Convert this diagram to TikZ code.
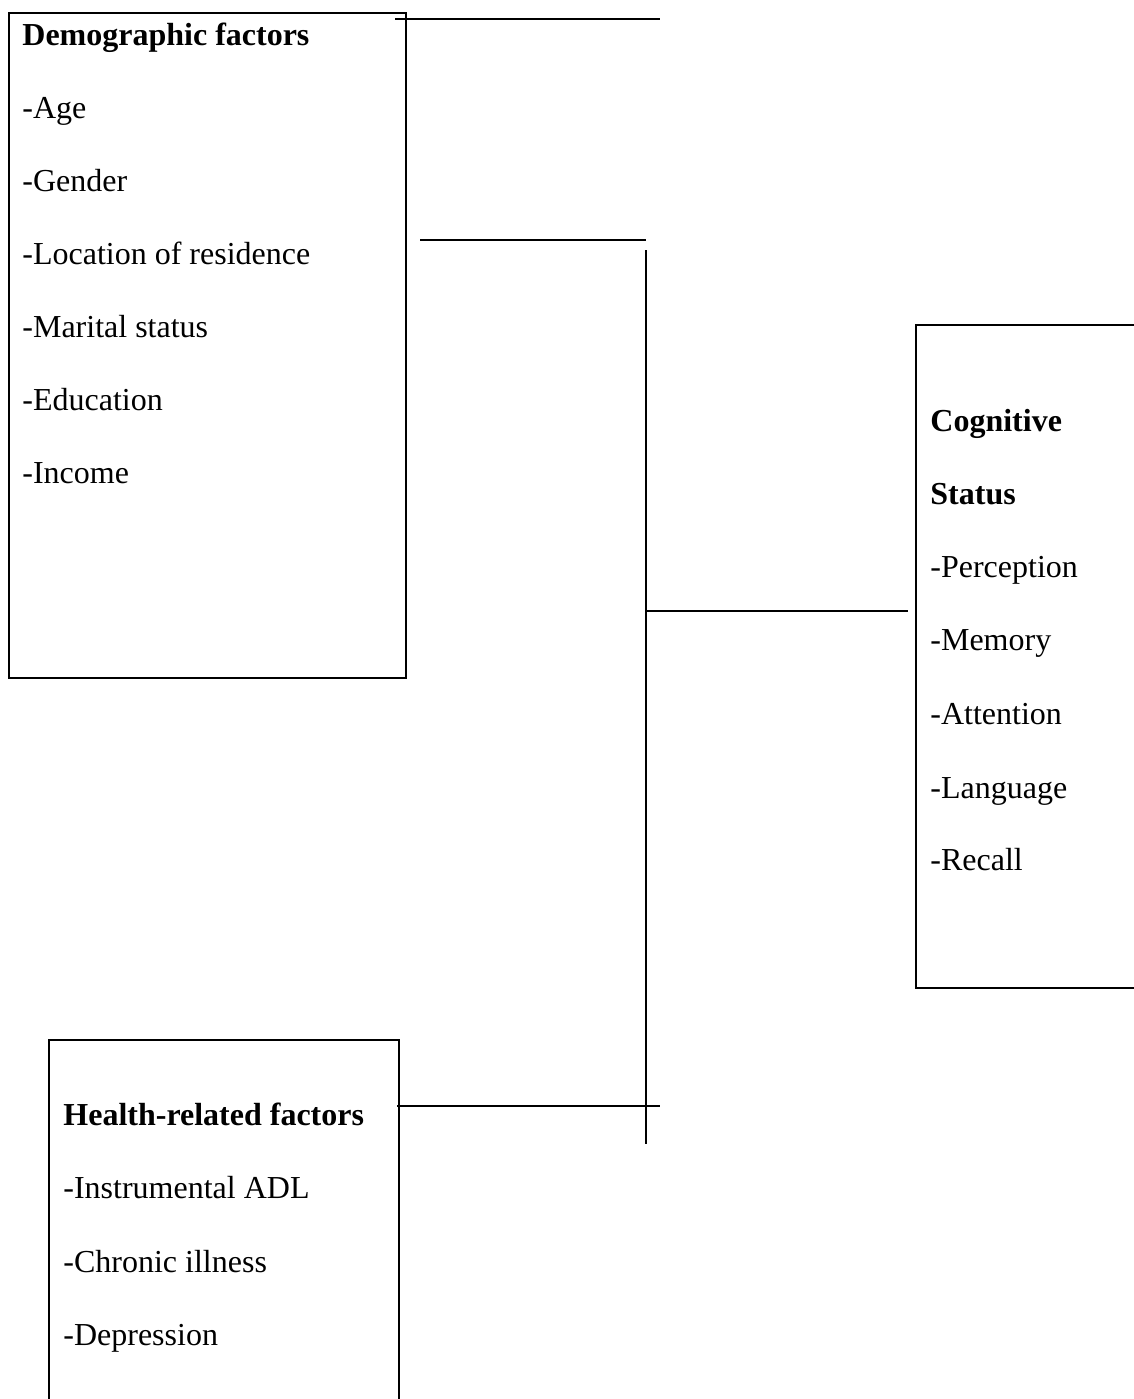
\documentclass[tikz,border=0pt]{standalone}
\usepackage{fontspec}
\setmainfont{Liberation Serif}
\begin{document}
\begin{tikzpicture}[x=0.5pt,y=-0.5pt,
  frame/.style={draw=black, line width=1pt, inner sep=0pt, anchor=north west},
  link/.style={draw=black, line width=0.75pt},
  txt/.style={anchor=base west, inner sep=0pt, font=\fontsize{16}{19}\selectfont},
  head/.style={anchor=base west, inner sep=0pt, font=\fontsize{16}{19}\selectfont\bfseries}]
\path[use as bounding box] (0,0) rectangle (1134,1399);
\clip (0,0) rectangle (1134,1399);
% boxes
\node[frame, minimum width=198.5pt, minimum height=332.5pt] (demo) at (8,12) {};
\node[frame, minimum width=122.5pt, minimum height=331.5pt] (cog) at (915,324) {};
\node[frame, minimum width=175pt, minimum height=190.5pt] (health) at (48,1039) {};
% demographic texts
\node[head] (d0) at (22,45) {Demographic factors};
\node[txt] (d1) at (22,118) {-Age};
\node[txt] (d2) at (22,191) {-Gender};
\node[txt] (d3) at (22,264) {-Location of residence};
\node[txt] (d4) at (22,337) {-Marital status};
\node[txt] (d5) at (22,410) {-Education};
\node[txt] (d6) at (22,483) {-Income};
% cognitive texts
\node[head] (c0) at (930,431) {Cognitive};
\node[head] (c1) at (930,504) {Status};
\node[txt] (c2) at (930,577) {-Perception};
\node[txt] (c3) at (930,650) {-Memory};
\node[txt] (c4) at (930,724) {-Attention};
\node[txt] (c5) at (930,798) {-Language};
\node[txt] (c6) at (930,870) {-Recall};
% health texts
\node[head] (h0) at (63,1125) {Health-related factors};
\node[txt] (h1) at (63,1198) {-Instrumental ADL};
\node[txt] (h2) at (63,1272) {-Chronic illness};
\node[txt] (h3) at (63,1345) {-Depression};
% connector end points
\coordinate (t1) at (395,19);
\coordinate (t2) at (660,19);
\coordinate (s1) at (420,240);
\coordinate (s2) at (646,240);
\coordinate (v1) at (646,250);
\coordinate (v2) at (646,1144);
\coordinate (m1) at (646,611);
\coordinate (m2) at (908,611);
\coordinate (b1) at (397,1106);
\coordinate (b2) at (660,1106);
\draw[link] (t1) -- (t2);
\draw[link] (s1) -- (s2);
\draw[link] (v1) -- (v2);
\draw[link] (m1) -- (m2);
\draw[link] (b1) -- (b2);
\end{tikzpicture}
\end{document}
